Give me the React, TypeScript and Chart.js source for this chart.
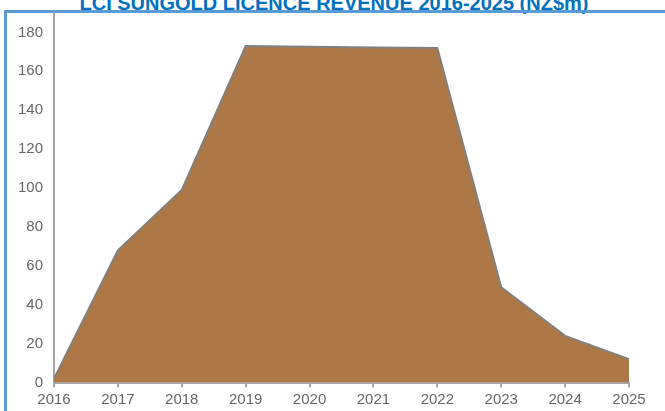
import { useEffect, useRef } from "react";
import { Chart, registerables } from "chart.js";

Chart.register(...registerables);

const years = ["2016", "2017", "2018", "2019", "2020", "2021", "2022", "2023", "2024", "2025"];
const revenue = [2, 68, 99, 173, 172.6, 172.3, 172, 49, 24, 12];
const yTicks = [0, 20, 40, 60, 80, 100, 120, 140, 160, 180];
const titleText = "LCI SUNGOLD LICENCE REVENUE 2016-2025 (NZ$m)";

export default function App() {
  const ref = useRef<HTMLCanvasElement>(null);
  useEffect(() => {
    if (!ref.current) return;
    const font = { family: "'Liberation Sans', Arial, sans-serif", size: 15 };
    const chart = new Chart(ref.current, {
      type: "line",
      data: {
        labels: years,
        datasets: [
          {
            data: revenue,
            fill: "origin",
            backgroundColor: "#AE7846",
            borderColor: "#808080",
            borderWidth: 2,
            pointRadius: 0,
            tension: 0,
          },
        ],
      },
      options: {
        animation: false,
        responsive: false,
        maintainAspectRatio: false,
        layout: { padding: { left: 0, top: 13, right: 36, bottom: 0 } },
        plugins: { legend: { display: false }, tooltip: { enabled: false }, title: { display: false } },
        scales: {
          x: {
            offset: false,
            grid: { drawOnChartArea: false, drawTicks: true, tickLength: 5, color: "#A6A6A6", lineWidth: 2 },
            border: { color: "#A6A6A6", width: 2 },
            ticks: { color: "#666666", font, padding: 3, maxRotation: 0, autoSkip: false },
            afterFit: (s: any) => {
              s.height = 28.5;
              s.paddingLeft = 0;
              s.paddingRight = 0;
            },
          },
          y: {
            min: 0,
            max: 190,
            afterBuildTicks: (s: any) => {
              s.ticks = yTicks.map((v) => ({ value: v }));
            },
            grid: { drawOnChartArea: false, drawTicks: false },
            border: { color: "#A6A6A6", width: 2 },
            ticks: { color: "#666666", font, padding: 11 },
            afterFit: (s: any) => {
              s.width = 54;
              s.paddingTop = 0;
              s.paddingBottom = 0;
            },
          },
        },
      },
    });
    return () => chart.destroy();
  }, []);

  return (
    <div style={{ position: "absolute", left: 0, top: 0, width: 665, height: 411, overflow: "hidden", background: "#ffffff" }}>
      <div
        style={{
          position: "absolute",
          left: 0,
          width: 668,
          top: -7,
          textAlign: "center",
          whiteSpace: "nowrap",
          fontFamily: "'Liberation Sans', Arial, sans-serif",
          fontWeight: 700,
          fontSize: 20,
          lineHeight: 1,
          color: "#0070C0",
        }}
      >
        {titleText}
      </div>
      <div
        style={{
          position: "absolute",
          left: 4,
          top: 10,
          width: 720,
          height: 500,
          boxSizing: "border-box",
          border: "3px solid #5B9BD5",
        }}
      />
      <canvas ref={ref} width={665} height={411} style={{ position: "absolute", left: 0, top: 0 }} />
    </div>
  );
}
